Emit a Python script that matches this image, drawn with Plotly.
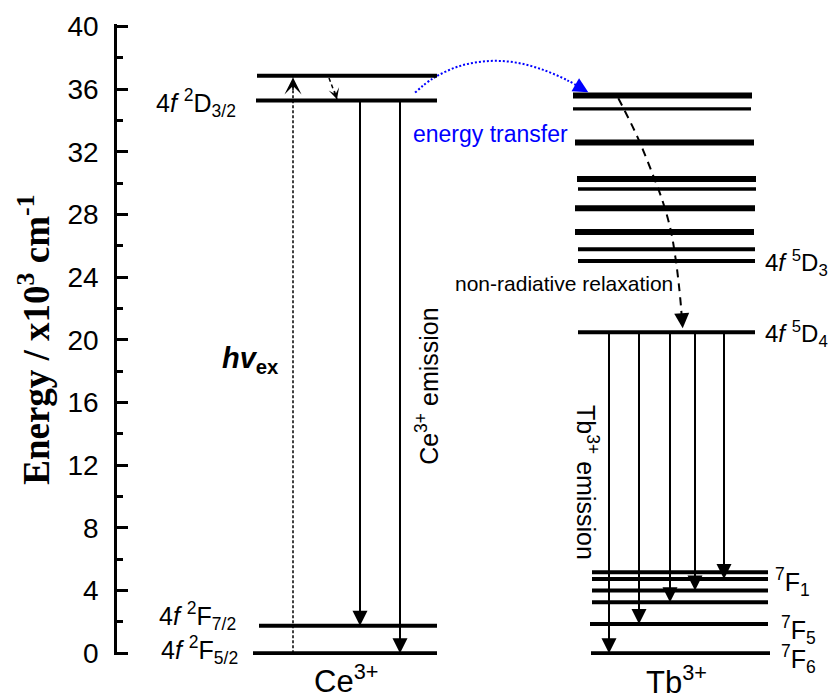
import plotly.graph_objects as go

# ---------------- data: energies in 10^3 cm^-1 ----------------
y_ticks = [0, 4, 8, 12, 16, 20, 24, 28, 32, 36, 40]

ce_level_energy = [0.0, 1.76, 35.28, 36.87]
ce_level_labels = ["4<i>f</i> <sup>2</sup>F<sub>5/2</sub>",
                   "4<i>f</i> <sup>2</sup>F<sub>7/2</sub>",
                   "4<i>f</i> <sup>2</sup>D<sub>3/2</sub>",
                   ""]
ce_emission_start = 35.28
ce_emission_end = [1.76, 0.0]
excitation_energy = [0.0, 36.76]
ce_relax_energy = [36.72, 35.36]

tb_high_energy = [35.6, 34.75, 32.6, 30.28, 29.64, 28.41, 26.9, 25.79, 25.04]
tb_5d4_energy = 20.49
tb_7f_energy = [0.0, 1.87, 3.26, 4.0, 4.74, 5.17]
tb_emission_end = [0.0, 1.87, 3.26, 4.0, 4.74]

relax_curve_energy = [35.43, 32.98, 30.47, 28.73, 27.02, 25.32, 23.62, 22.13, 21.6]
relax_tip_energy = 20.75
transfer_curve_energy = [35.79, 36.71, 37.49, 37.81, 37.70, 37.24, 36.60, 36.26]
transfer_tip_energy = 35.81

# ---------------- layout positions (x axis = screen px) ----------------
CE_X = [(253, 437), (259, 437), (256, 437), (257, 437)]
TB_HIGH_X = [(573, 752), (573, 751), (575, 754), (577, 756), (578, 756),
             (575, 755), (575, 754), (578, 755), (578, 755)]
TB_HIGH_W = [6, 3.3, 6, 6, 3.5, 6, 6, 4, 4]
TB_5D4_X = (578, 755)
TB_7F_X = [(591, 770), (590, 768), (592, 768), (592, 768), (592, 768), (592, 768)]
CE_EM_X = [360, 400]
EXC_X = 293
CE_RELAX_X = [329, 337]
TB_EM_X = [609, 639, 670, 695, 724]
RELAX_X = [618.3, 637.3, 653.3, 663.3, 670.7, 675.3, 678.7, 681.0, 681.6]
RELAX_TIP_X = 682.7
TRANSFER_X = [415, 433.3, 460, 490, 516.7, 543.3, 566.7, 576.3]
TRANSFER_TIP_X = 588.3

SANS = "Liberation Sans, Arial, sans-serif"
SERIF = "Liberation Serif, Times New Roman, serif"
BLUE = "#0000FF"

fig = go.Figure()
shapes = []


def hline(x0, x1, e, w=4):
    shapes.append(dict(type="line", xref="x", yref="y", x0=x0, x1=x1, y0=e, y1=e,
                       line=dict(color="black", width=w), layer="above"))


for (x0, x1), e in zip(CE_X, ce_level_energy):
    hline(x0, x1, e, 4)
for (x0, x1), e, w in zip(TB_HIGH_X, tb_high_energy, TB_HIGH_W):
    hline(x0, x1, e, w)
hline(TB_5D4_X[0], TB_5D4_X[1], tb_5d4_energy, 4)
for (x0, x1), e in zip(TB_7F_X, tb_7f_energy):
    hline(x0, x1, e, 4)

# dashed / dotted paths
fig.add_trace(go.Scatter(x=[EXC_X, EXC_X], y=excitation_energy, mode="lines",
                         line=dict(color="black", width=1.5, dash="3px,2px"),
                         hoverinfo="skip", showlegend=False))
fig.add_trace(go.Scatter(x=CE_RELAX_X, y=ce_relax_energy, mode="lines",
                         line=dict(color="black", width=1.5, dash="4px,3px"),
                         hoverinfo="skip", showlegend=False))
fig.add_trace(go.Scatter(x=RELAX_X, y=relax_curve_energy, mode="lines",
                         line=dict(color="black", width=2, dash="8px,6px", shape="spline"),
                         hoverinfo="skip", showlegend=False))
fig.add_trace(go.Scatter(x=TRANSFER_X, y=transfer_curve_energy, mode="lines",
                         line=dict(color=BLUE, width=2, dash="2px,2px", shape="spline"),
                         hoverinfo="skip", showlegend=False))

ann = []


def arrow(x, y, ax, ay, color="black", head=2, size=1.5, width=2, data_tail=True):
    d = dict(x=x, y=y, ax=ax, ay=ay, xref="x", yref="y", showarrow=True,
             arrowhead=head, arrowsize=size, arrowwidth=width, arrowcolor=color,
             text="", standoff=0, startstandoff=0)
    if data_tail:
        d.update(axref="x", ayref="y")
    ann.append(d)


for x, e in zip(CE_EM_X, ce_emission_end):
    arrow(x, e, x, ce_emission_start)
for x, e in zip(TB_EM_X, tb_emission_end):
    arrow(x, e, x, tb_5d4_energy)
# heads of dashed arrows (pixel offsets for tails)
arrow(EXC_X, excitation_energy[1], 0, 14, head=3, size=1.9, width=1.5, data_tail=False)
arrow(CE_RELAX_X[1], ce_relax_energy[1], -3, -10, head=3, size=1.4, width=1.3, data_tail=False)
arrow(RELAX_TIP_X, relax_tip_energy, -1, -15, head=2, size=1.5, width=2, data_tail=False)
arrow(TRANSFER_TIP_X, transfer_tip_energy, -13, -7.5, color=BLUE, head=2, size=1.5, width=2,
      data_tail=False)


def label(text, x, y, xanchor="center", yanchor="middle", size=26, color="black",
          angle=0, family=SANS, yshift=0, xref="x", yref="y"):
    ann.append(dict(text=text, x=x, y=y, xref=xref, yref=yref, xanchor=xanchor,
                    yanchor=yanchor, showarrow=False, textangle=angle, yshift=yshift,
                    font=dict(family=family, size=size, color=color)))


# Ce3+ labels
label(ce_level_labels[2], 238, ce_level_energy[2], xanchor="right", yshift=-2, size=25)
label(ce_level_labels[1], 238, ce_level_energy[1], xanchor="right", yshift=10, size=25)
label(ce_level_labels[0], 240, ce_level_energy[0], xanchor="right", yshift=3, size=25)
label("Ce<sup>3+</sup>", 346, 0, yanchor="top", size=31, yshift=-4)
label("<b><i>hv</i><sub>ex</sub></b>", 250, 18.7, size=29)
label("Ce<sup>3+</sup> emission", 427, 17.07, size=25, angle=-90)

# Tb3+ labels
label("energy transfer", 490, 33.15, size=23, color=BLUE)
label("non-radiative relaxation", 564, 23.63, size=21)
label("4<i>f</i> <sup>5</sup>D<sub>3</sub>", 763, tb_high_energy[-1], xanchor="left",
      yshift=-2, size=24)
label("4<i>f</i> <sup>5</sup>D<sub>4</sub>", 763, tb_5d4_energy, xanchor="left",
      yshift=-2, size=24)
label("<sup>7</sup>F<sub>1</sub>", 773, tb_7f_energy[-1], xanchor="left", yshift=-10, size=25)
label("<sup>7</sup>F<sub>5</sub>", 779, tb_7f_energy[1], xanchor="left", yshift=-6, size=25)
label("<sup>7</sup>F<sub>6</sub>", 779, tb_7f_energy[0], xanchor="left", yshift=-6, size=25)
label("Tb<sup>3+</sup>", 676, 0, yanchor="top", size=31, yshift=-5)
label("Tb<sup>3+</sup> emission", 587, 10.93, size=25, angle=90)

# axis title
label("<b>Energy / x10<sup>3</sup> cm<sup>-1</sup></b>", -0.116, 0.5, size=37,
      angle=-90, family=SERIF, xref="paper", yref="paper")

fig.update_layout(
    width=830, height=699,
    margin=dict(l=117, r=0, t=24, b=44, pad=0),
    paper_bgcolor="white", plot_bgcolor="white",
    showlegend=False, hovermode=False,
    shapes=shapes, annotations=ann,
    xaxis=dict(visible=False, range=[117, 830], fixedrange=True),
    yaxis=dict(range=[-0.11, 40.17], tickvals=y_ticks, ticktext=[str(v) for v in y_ticks],
               showline=True, linecolor="black", linewidth=2.5,
               ticks="inside", ticklen=11, tickwidth=2.5, tickcolor="black",
               minor=dict(ticks="inside", dtick=2, tick0=0, ticklen=6, tickwidth=2.5,
                          tickcolor="black", showgrid=False),
               showgrid=False, zeroline=False, ticklabelstandoff=10,
               tickfont=dict(family=SANS, size=28, color="black"), fixedrange=True),
)

fig.write_html("out.html", config={"displayModeBar": False},
               post_script="document.body.style.margin='0';document.body.style.overflow='hidden';")
